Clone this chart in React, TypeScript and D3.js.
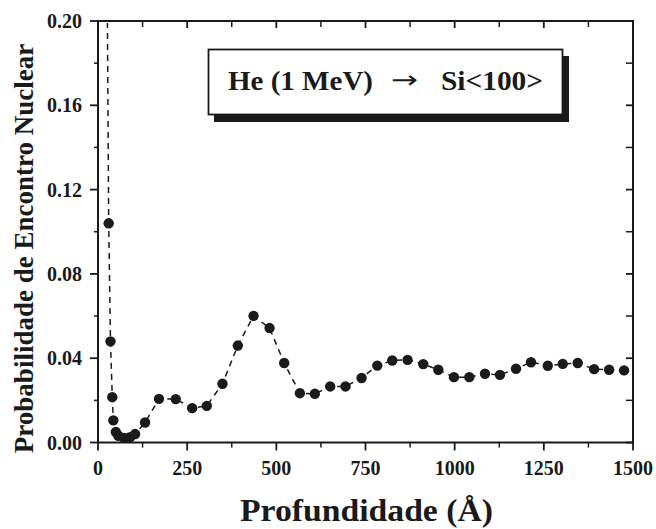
import React from "react";
import * as d3 from "d3";

const depth = [30, 35, 40, 43, 50, 57, 73, 90, 104, 132, 171, 218, 264, 305, 349, 392, 436, 481, 522, 566, 608, 651, 694, 739, 783, 825, 868, 912, 954, 998, 1041, 1085, 1127, 1172, 1214, 1261, 1303, 1345, 1391, 1433, 1475];
const prob = [0.104, 0.048, 0.0215, 0.0105, 0.005, 0.0032, 0.0022, 0.0025, 0.004, 0.0095, 0.0207, 0.0206, 0.0163, 0.0174, 0.0279, 0.046, 0.0601, 0.0543, 0.0377, 0.0234, 0.0231, 0.0266, 0.0266, 0.0306, 0.0365, 0.0389, 0.0392, 0.0372, 0.0345, 0.031, 0.031, 0.0326, 0.0321, 0.035, 0.0381, 0.0364, 0.0373, 0.0377, 0.0348, 0.0345, 0.0342];
// dashed guide continues above the top of the frame (clipped)
const leadDepth = [26];
const leadProb = [0.21];

const xMajor = [0, 250, 500, 750, 1000, 1250, 1500];
const xMinor = [125, 375, 625, 875, 1125, 1375];
const yMajor = [0, 0.04, 0.08, 0.12, 0.16, 0.2];
const yMinor = [0.02, 0.06, 0.1, 0.14, 0.18];

const xTitle = "Profundidade (Å)";
const yTitle = "Probabilidade de Encontro Nuclear";
const boxLeft = "He (1 MeV)";
const boxArrow = "→";
const boxRight = "Si<100>";

const FONT = "'Liberation Serif', 'Times New Roman', serif";
const INK = "#1a1a1a";

export default function App() {
  const L = 98, R = 633, T = 21, B = 442.5;
  const x = d3.scaleLinear().domain([0, 1500]).range([L, R]);
  const y = d3.scaleLinear().domain([0, 0.2]).range([B, T]);

  const pts: [number, number][] = [
    ...leadDepth.map((d, i) => [d, leadProb[i]] as [number, number]),
    ...depth.map((d, i) => [d, prob[i]] as [number, number]),
  ];
  const line = d3.line<[number, number]>().x((d) => x(d[0])).y((d) => y(d[1]));

  return (
    <div style={{ position: "absolute", left: 0, top: 0 }}>
      <svg width={656} height={529} style={{ display: "block", background: "#fff" }}>
        <defs>
          <clipPath id="plotclip">
            <rect x={L} y={T + 2} width={R - L} height={B - T} />
          </clipPath>
        </defs>

        {/* frame */}
        <rect x={L} y={T} width={R - L} height={B - T} fill="none" stroke={INK} strokeWidth={2} />

        {/* bottom ticks (outward) */}
        {xMajor.map((t) => (
          <line key={"bx" + t} x1={x(t)} x2={x(t)} y1={B} y2={B + 8} stroke={INK} strokeWidth={1.8} />
        ))}
        {xMinor.map((t) => (
          <line key={"bxm" + t} x1={x(t)} x2={x(t)} y1={B} y2={B + 5} stroke={INK} strokeWidth={1.5} />
        ))}
        {/* top ticks (inward) */}
        {xMajor.map((t) => (
          <line key={"tx" + t} x1={x(t)} x2={x(t)} y1={T} y2={T + 7} stroke={INK} strokeWidth={1.8} />
        ))}
        {xMinor.map((t) => (
          <line key={"txm" + t} x1={x(t)} x2={x(t)} y1={T} y2={T + 6} stroke={INK} strokeWidth={1.5} />
        ))}
        {/* left ticks (outward) */}
        {yMajor.map((t) => (
          <line key={"ly" + t} x1={L - 8} x2={L} y1={y(t)} y2={y(t)} stroke={INK} strokeWidth={1.8} />
        ))}
        {yMinor.map((t) => (
          <line key={"lym" + t} x1={L - 4} x2={L} y1={y(t)} y2={y(t)} stroke={INK} strokeWidth={1.5} />
        ))}
        {/* right ticks (inward) */}
        {yMajor.map((t) => (
          <line key={"ry" + t} x1={R - 7} x2={R} y1={y(t)} y2={y(t)} stroke={INK} strokeWidth={1.8} />
        ))}
        {yMinor.map((t) => (
          <line key={"rym" + t} x1={R - 7} x2={R} y1={y(t)} y2={y(t)} stroke={INK} strokeWidth={1.5} />
        ))}

        {/* tick labels */}
        {xMajor.map((t) => (
          <text key={"xl" + t} x={x(t)} y={475} textAnchor="middle" fontFamily={FONT} fontWeight="bold" fontSize={20} fill={INK}>
            {String(t)}
          </text>
        ))}
        {yMajor.map((t) => (
          <text key={"yl" + t} x={82} y={y(t)} dy="0.35em" textAnchor="end" fontFamily={FONT} fontWeight="bold" fontSize={20} fill={INK}>
            {t.toFixed(2)}
          </text>
        ))}

        {/* axis titles */}
        <text x={240} y={521} textLength={253} lengthAdjust="spacingAndGlyphs" fontFamily={FONT} fontWeight="bold" fontSize={32} fill={INK}>
          {xTitle}
        </text>
        <text transform="translate(33,248.5) rotate(-90)" textAnchor="middle" fontFamily={FONT} fontWeight="bold" fontSize={27} fill={INK}>
          {yTitle}
        </text>

        {/* data */}
        <g clipPath="url(#plotclip)">
          <path d={line(pts) || ""} fill="none" stroke={INK} strokeWidth={1.5} strokeDasharray="6,5" />
        </g>
        {depth.map((d, i) => (
          <circle key={"p" + i} cx={x(d)} cy={y(prob[i])} r={5.2} fill={INK} />
        ))}

        {/* annotation box */}
        <rect x={214} y={56} width={355} height={66} fill={INK} />
        <rect x={208.5} y={49.5} width={354} height={65} fill="#fff" stroke={INK} strokeWidth={1.8} />
        <text x={228} y={90} textLength={145} lengthAdjust="spacingAndGlyphs" fontFamily={FONT} fontWeight="bold" fontSize={27} fill={INK}>
          {boxLeft}
        </text>
        <text x={391} y={88} textLength={27} lengthAdjust="spacingAndGlyphs" fontFamily="'DejaVu Sans', sans-serif" fontSize={24} fill={INK}>
          {boxArrow}
        </text>
        <text x={441} y={90} textLength={102} lengthAdjust="spacingAndGlyphs" fontFamily={FONT} fontWeight="bold" fontSize={27} fill={INK}>
          {boxRight}
        </text>
      </svg>
    </div>
  );
}
